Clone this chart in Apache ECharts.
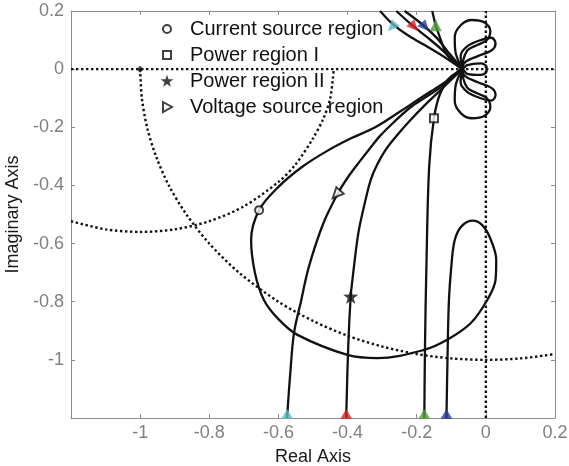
<!DOCTYPE html>
<html>
<head>
<meta charset="utf-8">
<script src="https://cdn.jsdelivr.net/npm/echarts@6/dist/echarts.min.js"></script>
<style>
html,body{margin:0;padding:0;background:#fff;}
#chart{width:569px;height:466px;}
</style>
</head>
<body>
<div id="chart"></div>
<script>
// ---- axis settings ----
const axisMin = -1.2;
const axisMax = 0.2;
const axisStep = 0.2;

// ---- dotted reference curves ----
const realAxisLine = [[-1.2, 0], [0.2, 0]];
const imagAxisLine = [[0, -1.2], [0, 0.2]];
const unitCircleArc = [
  [-1, 0], [-0.995, -0.1], [-0.98, -0.2], [-0.954, -0.3], [-0.917, -0.4], [-0.866, -0.5],
  [-0.8, -0.6], [-0.714, -0.7], [-0.6, -0.8], [-0.5, -0.866], [-0.4, -0.917], [-0.3, -0.954],
  [-0.2, -0.98], [-0.1, -0.995], [0, -1], [0.1, -0.995], [0.2, -0.98]
];
const secondArc = [
  [-1.2, -0.523], [-1.1, -0.551], [-1.0, -0.56], [-0.9, -0.551], [-0.8, -0.523],
  [-0.7, -0.472], [-0.6, -0.388], [-0.55, -0.327], [-0.5, -0.238], [-0.47, -0.17],
  [-0.45, -0.1], [-0.44, 0]
];
const criticalPoint = [[-1, 0]];

// ---- solid Nyquist curves ----
const curveA = [
  [-0.306, 0.2], [-0.266, 0.151], [-0.22, 0.112], [-0.17, 0.078], [-0.12, 0.042], [-0.085, 0.014], [-0.068, 0],
  [-0.088, 0.06], [-0.09, 0.11], [-0.072, 0.152], [-0.04, 0.169], [-0.005, 0.161], [0.013, 0.13], [0.003, 0.1], [-0.025, 0.083], [-0.055, 0.062], [-0.068, 0],
  [-0.055, -0.062], [-0.025, -0.083], [0.003, -0.1], [0.013, -0.13], [-0.005, -0.161], [-0.04, -0.169], [-0.072, -0.152], [-0.09, -0.11], [-0.088, -0.06], [-0.068, 0],
  [-0.1, -0.025], [-0.131, -0.062], [-0.175, -0.097], [-0.218, -0.131], [-0.262, -0.178], [-0.304, -0.227], [-0.335, -0.272],
  [-0.362, -0.313], [-0.395, -0.365], [-0.427, -0.425], [-0.47, -0.53], [-0.512, -0.68], [-0.535, -0.8], [-0.555, -0.908],
  [-0.566, -1.05], [-0.575, -1.2]
];
const curveB = [
  [-0.259, 0.2], [-0.213, 0.151], [-0.17, 0.11], [-0.13, 0.07], [-0.095, 0.03], [-0.068, 0],
  [-0.073, 0.045], [-0.054, 0.078], [-0.015, 0.1], [0.016, 0.108], [0.028, 0.089], [0.018, 0.066], [-0.025, 0.044], [-0.06, 0.024], [-0.068, 0],
  [-0.06, -0.024], [-0.025, -0.044], [0.018, -0.066], [0.028, -0.089], [0.016, -0.108], [-0.015, -0.1], [-0.054, -0.078], [-0.073, -0.045], [-0.068, 0],
  [-0.1, -0.036], [-0.131, -0.072], [-0.175, -0.122], [-0.218, -0.175], [-0.255, -0.225], [-0.29, -0.278], [-0.315, -0.33],
  [-0.333, -0.381], [-0.352, -0.47], [-0.369, -0.565], [-0.386, -0.725], [-0.391, -0.782], [-0.398, -0.95], [-0.404, -1.2]
];
const curveC = [
  [-0.235, 0.2], [-0.181, 0.151], [-0.14, 0.105], [-0.11, 0.06], [-0.085, 0.025], [-0.068, 0],
  [-0.054, 0.014], [-0.015, 0.02], [0.002, 0.008], [0.002, -0.008], [-0.015, -0.02], [-0.054, -0.016], [-0.068, 0],
  [-0.1, -0.03], [-0.131, -0.055], [-0.19, -0.1], [-0.247, -0.145], [-0.32, -0.2], [-0.39, -0.238], [-0.46, -0.282],
  [-0.53, -0.335], [-0.6, -0.405], [-0.656, -0.485], [-0.679, -0.588], [-0.668, -0.7], [-0.642, -0.794], [-0.6, -0.86],
  [-0.545, -0.914], [-0.4, -0.983], [-0.314, -0.994], [-0.179, -0.966], [-0.112, -0.931], [-0.044, -0.874], [0.004, -0.794],
  [0.028, -0.725], [0.03, -0.656], [0.012, -0.58], [-0.012, -0.535], [-0.038, -0.521], [-0.07, -0.54],
  [-0.09, -0.588], [-0.1, -0.68], [-0.107, -0.8], [-0.111, -1.0], [-0.114, -1.2]
];
const curveD = [
  [-0.155, 0.2], [-0.145, 0.151], [-0.13, 0.1], [-0.115, 0.055], [-0.088, 0.018], [-0.068, 0],
  [-0.1, -0.026], [-0.132, -0.084], [-0.15, -0.169], [-0.164, -0.336], [-0.172, -0.68], [-0.176, -0.95], [-0.178, -1.2]
];

// ---- region markers ----
const currentSourcePts = [[-0.656, -0.485]];
const powerRegion1Pts = [[-0.15, -0.169]];
const powerRegion2Pts = [[-0.391, -0.782]];
const voltageSourcePts = [[-0.427, -0.425]];

// ---- coloured direction arrows ----
const arrowColors = ['#62b6c2', '#d8222c', '#2b3f97', '#4f9b3b'];
const bottomArrowX = [-0.575, -0.404, -0.114, -0.178];
const bottomArrowY = -1.186;
const topArrowX = [-0.266, -0.213, -0.181, -0.145];
const topArrowY = 0.151;

const FONT = '"Liberation Sans", Arial, Helvetica, sans-serif';
const starPath = 'path://M0,-10 L2.35,-3.24 L9.51,-3.09 L3.8,1.24 L5.88,8.09 L0,4 L-5.88,8.09 L-3.8,1.24 L-9.51,-3.09 L-2.35,-3.24 Z';
const triDownLeftPath = 'path://M0,12 L4,0 L12,7 Z';
const triDownRightPath = 'path://M12,12 L8,0 L0,7 Z';
const triUpPath = 'path://M6,0 L12,10 L0,10 Z';
// legend icons padded inside a 14x14 box
const legCircle = 'path://M0,0 M14,14 M3,7 A4,4 0 1 1 11,7 A4,4 0 1 1 3,7 Z';
const legRect = 'path://M0,0 M14,14 M3,3 L11,3 L11,11 L3,11 Z';
const legTri = 'path://M0,0 M14,14 M3,2 L12,7 L3,12 Z';
const legStar = 'path://M-10.5,-11 M10.5,10 M0,-10 L2.35,-3.24 L9.51,-3.09 L3.8,1.24 L5.88,8.09 L0,4 L-5.88,8.09 L-3.8,1.24 L-9.51,-3.09 L-2.35,-3.24 Z';

function fmt(v) {
  if (Math.abs(v - axisMin) < 1e-6) return '';
  return String(+v.toFixed(1));
}

const gray = '#8c8c8c';
const labelGray = '#808080';

function valAxis(extra) {
  return Object.assign({
    type: 'value', min: axisMin, max: axisMax, interval: axisStep,
    axisLine: { show: true, onZero: false, lineStyle: { color: gray, width: 1 } },
    axisTick: { show: true, inside: true, length: 4, lineStyle: { color: gray } },
    splitLine: { show: false }
  }, extra);
}

const lineStyleSolid = { color: '#111', width: 2.3 };
const dotted = { color: '#111', width: 2.4, type: [2.4, 2.6] };

function curveSeries(data) {
  return { type: 'line', data: data, smooth: 0.35, showSymbol: false, symbol: 'none',
    lineStyle: lineStyleSolid, clip: true, silent: true, z: 3 };
}
function dottedSeries(data, smooth) {
  return { type: 'line', data: data, smooth: smooth, showSymbol: false, symbol: 'none',
    lineStyle: dotted, clip: true, silent: true, z: 2 };
}

const bottomArrows = bottomArrowX.map((x, i) => ({ value: [x, bottomArrowY], itemStyle: { color: arrowColors[i] } }));
const topArrowShapes = [triDownLeftPath, triDownRightPath, triDownRightPath, triUpPath];
const topArrows = topArrowX.map((x, i) => ({ value: [x, topArrowY], symbol: topArrowShapes[i], itemStyle: { color: arrowColors[i] } }));

const hollow = { color: '#fff', borderColor: '#111', borderWidth: 2 };

const option = {
  animation: false,
  backgroundColor: '#fff',
  textStyle: { fontFamily: FONT },
  grid: { left: 71, right: 14, top: 11, bottom: 48, containLabel: false, outerBoundsMode: 'none' },
  xAxis: [
    valAxis({ position: 'bottom',
      axisLabel: { color: labelGray, fontSize: 18, margin: 6, formatter: fmt, fontFamily: FONT },
      name: 'Real Axis', nameLocation: 'middle', nameGap: 30,
      nameTextStyle: { color: '#1a1a1a', fontSize: 18, fontFamily: FONT } }),
    valAxis({ position: 'top', axisLabel: { show: false } })
  ],
  yAxis: [
    valAxis({ position: 'left',
      axisLabel: { color: labelGray, fontSize: 18, margin: 7, formatter: fmt, fontFamily: FONT },
      name: 'Imaginary Axis', nameLocation: 'middle', nameGap: 40,
      nameTextStyle: { color: '#1a1a1a', fontSize: 18, fontFamily: FONT } }),
    valAxis({ position: 'right', axisLabel: { show: false } })
  ],
  legend: {
    orient: 'vertical', left: 159, top: 19, padding: 0, itemGap: 6, itemWidth: 14, itemHeight: 14,
    textStyle: { color: '#111', fontSize: 20, fontFamily: FONT, padding: [0, 0, 0, 11] },
    data: [
      { name: 'Current source region', icon: legCircle, itemStyle: hollow },
      { name: 'Power region I', icon: legRect, itemStyle: hollow },
      { name: 'Power region II', icon: legStar, itemStyle: { color: '#111', borderWidth: 0 } },
      { name: 'Voltage source region', icon: legTri, itemStyle: hollow }
    ]
  },
  series: [
    dottedSeries(realAxisLine, false),
    dottedSeries(imagAxisLine, false),
    dottedSeries(unitCircleArc, 0.3),
    dottedSeries(secondArc, 0.3),
    curveSeries(curveA),
    curveSeries(curveB),
    curveSeries(curveC),
    curveSeries(curveD),
    { type: 'scatter', data: criticalPoint, symbol: 'diamond', symbolSize: 7, itemStyle: { color: '#111' }, z: 5, silent: true },
    { name: 'Current source region', type: 'scatter', data: currentSourcePts, symbol: 'circle', symbolSize: 8,
      itemStyle: hollow, z: 6 },
    { name: 'Power region I', type: 'scatter', data: powerRegion1Pts, symbol: 'rect', symbolSize: 8,
      itemStyle: hollow, z: 6 },
    { name: 'Power region II', type: 'scatter', data: powerRegion2Pts, symbol: starPath, symbolSize: 15,
      itemStyle: { color: '#111' }, z: 6 },
    { name: 'Voltage source region', type: 'scatter', data: voltageSourcePts,
      symbol: triDownLeftPath, symbolSize: 11, itemStyle: hollow, z: 6 },
    { type: 'scatter', data: bottomArrows, symbol: 'triangle', symbolSize: [12, 10], z: 7, silent: true },
    { type: 'scatter', data: topArrows, symbolSize: 12, z: 7, silent: true }
  ]
};

const chart = echarts.init(document.getElementById('chart'), null, { renderer: 'canvas' });
chart.setOption(option);
</script>
</body>
</html>
